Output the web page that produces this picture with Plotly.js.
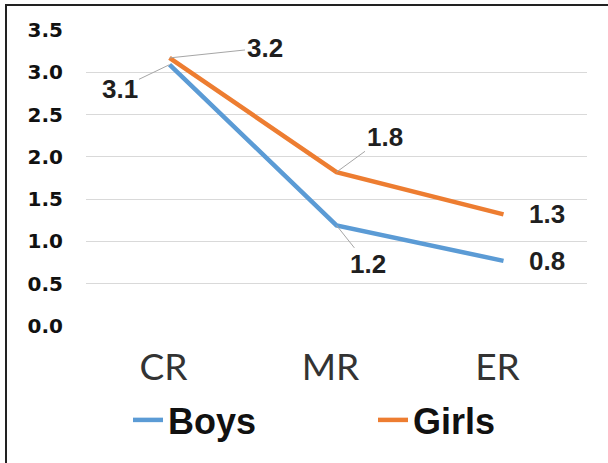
<!DOCTYPE html>
<html>
<head>
<meta charset="utf-8">
<script src="https://cdn.plot.ly/plotly-3.0.1.min.js"></script>
<style>
  html, body { margin: 0; padding: 0; background: #fff; }
  #wrap { position: relative; width: 608px; height: 463px; }
  #chart { width: 608px; height: 463px; }
  #frame { position: absolute; left: 5px; top: 4px; right: 0; bottom: 0;
           border-top: 2px solid #222; border-left: 2px solid #222; pointer-events: none; }
</style>
</head>
<body>
<div id="wrap">
  <div id="chart"></div>
  <div id="frame"></div>
</div>
<script>
const categories = ["CR", "MR", "ER"];
const boys = [3.09, 1.19, 0.77];
const girls = [3.17, 1.82, 1.32];
const boysLabels = ["3.1", "1.2", "0.8"];
const girlsLabels = ["3.2", "1.8", "1.3"];
const yTicks = [0, 0.5, 1, 1.5, 2, 2.5, 3, 3.5];

const traces = [
  { x: categories, y: boys, name: "Boys", type: "scatter", mode: "lines",
    line: { color: "#5B9BD5", width: 4.5 } },
  { x: categories, y: girls, name: "Girls", type: "scatter", mode: "lines",
    line: { color: "#ED7D31", width: 4.5 } }
];

const labelFont = { family: "Liberation Sans, Arial, sans-serif", size: 26, color: "#1f1f1f", weight: "bold" };
const lead = { showarrow: true, arrowhead: 0, arrowwidth: 1, arrowcolor: "#a6a6a6", standoff: 0, font: labelFont };

const annotations = [
  Object.assign({ x: categories[0], y: girls[0], text: girlsLabels[0], ax: 95, ay: -10 }, lead),
  Object.assign({ x: categories[0], y: boys[0], text: boysLabels[0], ax: -50, ay: 24 }, lead),
  Object.assign({ x: categories[1], y: girls[1], text: girlsLabels[1], ax: 48, ay: -35 }, lead),
  Object.assign({ x: categories[1], y: boys[1], text: boysLabels[1], ax: 31, ay: 39 }, lead),
  { x: categories[2], y: girls[2], text: girlsLabels[2], showarrow: false, xshift: 43, yshift: 0, font: labelFont },
  { x: categories[2], y: boys[2], text: boysLabels[2], showarrow: false, xshift: 43, yshift: 0, font: labelFont }
];

const layout = {
  width: 608, height: 463,
  margin: { l: 86, r: 21, t: 30, b: 137 },
  paper_bgcolor: "#fff", plot_bgcolor: "#fff",
  showlegend: true,
  legend: {
    orientation: "h", xref: "container", yref: "container",
    x: 128 / 608, y: 1 - 390 / 463, xanchor: "left", yanchor: "top",
    entrywidth: 200, entrywidthmode: "pixels",
    font: { family: "Liberation Sans, Arial, sans-serif", size: 36, color: "#111", weight: "bold" }
  },
  xaxis: {
    type: "category", range: [-0.5, 2.5],
    showgrid: false, showline: false, zeroline: false, ticks: "",
    ticklabelstandoff: 16, ticklabelshift: -6,
    tickfont: { family: "Lato, sans-serif", size: 37, color: "#333" },
    fixedrange: true
  },
  yaxis: {
    range: [0, 3.5], tickvals: yTicks, tickformat: ".1f",
    showgrid: true, gridcolor: "#d9d9d9", gridwidth: 1.2,
    zeroline: false, showline: false, ticks: "",
    ticklabelstandoff: 22,
    tickfont: { family: "DejaVu Sans, sans-serif", size: 20, color: "#111", weight: "bold" },
    fixedrange: true
  },
  annotations: annotations
};

Plotly.newPlot("chart", traces, layout, { displayModeBar: false, staticPlot: true });
</script>
</body>
</html>
